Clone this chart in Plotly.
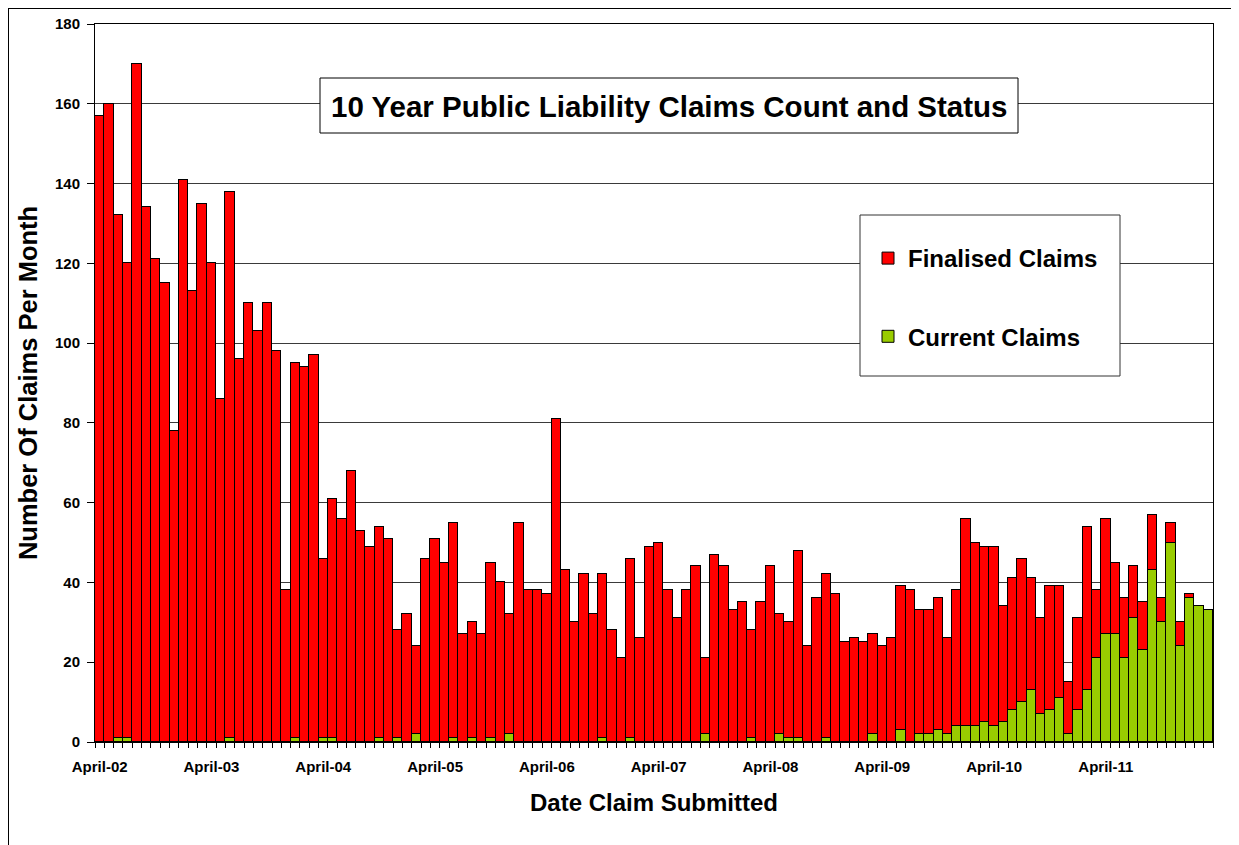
import plotly.graph_objects as go

# ---- data ----
start_year, start_month = 2002, 4
months = []
y, m = start_year, start_month
for _ in range(120):
    months.append(f"{y}-{m:02d}")
    m += 1
    if m > 12:
        m = 1
        y += 1

current = [
    0, 0, 1, 1, 0, 0, 0, 0, 0, 0, 0, 0,
    0, 0, 1, 0, 0, 0, 0, 0, 0, 1, 0, 0,
    1, 1, 0, 0, 0, 0, 1, 0, 1, 0, 2, 0,
    0, 0, 1, 0, 1, 0, 1, 0, 2, 0, 0, 0,
    0, 0, 0, 0, 0, 0, 1, 0, 0, 1, 0, 0,
    0, 0, 0, 0, 0, 2, 0, 0, 0, 0, 1, 0,
    0, 2, 1, 1, 0, 0, 1, 0, 0, 0, 0, 2,
    0, 0, 3, 0, 2, 2, 3, 2, 4, 4, 4, 5,
    4, 5, 8, 10, 13, 7, 8, 11, 2, 8, 13, 21,
    27, 27, 21, 31, 23, 43, 30, 50, 24, 36, 34, 33,
]

finalised = [
    157, 160, 131, 119, 170, 134, 121, 115, 78, 141, 113, 135,
    120, 86, 137, 96, 110, 103, 110, 98, 38, 94, 94, 97,
    45, 60, 56, 68, 53, 49, 53, 51, 27, 32, 22, 46,
    51, 45, 54, 27, 29, 27, 44, 40, 30, 55, 38, 38,
    37, 81, 43, 30, 42, 32, 41, 28, 21, 45, 26, 49,
    50, 38, 31, 38, 44, 19, 47, 44, 33, 35, 27, 35,
    44, 30, 29, 47, 24, 36, 41, 37, 25, 26, 25, 25,
    24, 26, 36, 38, 31, 31, 33, 24, 34, 52, 46, 44,
    45, 29, 33, 36, 28, 24, 31, 28, 13, 23, 41, 17,
    29, 18, 15, 13, 12, 14, 6, 5, 6, 1, 0, 0,
]

tick_months = ["2002-04", "2003-04", "2004-04", "2005-04", "2006-04",
               "2007-04", "2008-04", "2009-04", "2010-04", "2011-04"]
tick_labels = ["April-02", "April-03", "April-04", "April-05", "April-06",
               "April-07", "April-08", "April-09", "April-10", "April-11"]

RED = "#FF0000"
GREEN = "#99CC00"
FONT = "Liberation Sans, Arial, sans-serif"

label_map = dict(zip(tick_months, tick_labels))
ticktext = [label_map.get(mo, "") for mo in months]

fig = go.Figure()
fig.add_trace(go.Bar(
    x=months, y=current, name="Current Claims", legendgroup="c",
    legendrank=2,
    marker=dict(color=GREEN, line=dict(color="black", width=1)),
))
fig.add_trace(go.Bar(
    x=months, y=finalised, name="Finalised Claims", legendgroup="f",
    legendrank=1,
    marker=dict(color=RED, line=dict(color="black", width=1)),
))

# page has an 8px body margin; figure is sized/shifted to compensate
OFF = 8
W, H = 1239 - OFF, 845 - OFF
L, R, T, B = 95 - OFF, 26, 24 - OFF, 103
PW, PH = W - L - R, H - T - B

def px(xp):  # reference page x -> paper
    return (xp - 95) / PW

def py(yp):  # reference page y -> paper
    return (742 - yp) / PH

fig.update_layout(
    width=W, height=H,
    template="none",
    barmode="stack", bargap=0,
    paper_bgcolor="white", plot_bgcolor="white",
    margin=dict(l=L, r=R, t=T, b=B, pad=0, autoexpand=False),
    font=dict(family=FONT, color="black"),
    showlegend=True,
    legend=dict(
        x=px(868), y=py(236), xanchor="left", yanchor="top",
        font=dict(family=FONT, size=24, weight="bold", color="black"),
        bgcolor="rgba(0,0,0,0)", borderwidth=0,
        traceorder="grouped", tracegroupgap=44,
    ),
    xaxis=dict(
        type="category", categoryorder="array", categoryarray=months,
        tickmode="array", tickvals=months, ticktext=ticktext,
        tickson="boundaries", ticks="outside", ticklen=5, tickwidth=1,
        tickcolor="black", ticklabelstandoff=11,
        showgrid=False, showline=True, linecolor="black", linewidth=1,
        mirror=True, zeroline=False, automargin=False,
        tickfont=dict(family=FONT, size=15, weight="bold", color="black"),
        tickangle=0,
        title=dict(text="Date Claim Submitted", standoff=20,
                   font=dict(family=FONT, size=24, weight="bold", color="black")),
    ),
    yaxis=dict(
        range=[0, 180], dtick=20, tick0=0,
        ticks="outside", ticklen=7, tickwidth=1, tickcolor="black",
        ticklabelstandoff=4,
        showgrid=True, gridcolor="#3a3a3a", gridwidth=1,
        showline=True, linecolor="black", linewidth=1, mirror=True,
        zeroline=False, automargin=False,
        tickfont=dict(family=FONT, size=15, weight="bold", color="black"),
        title=dict(text="Number Of Claims Per Month", standoff=10,
                   font=dict(family=FONT, size=25.5, weight="bold", color="black")),
    ),
)

# title box
fig.add_shape(type="rect", xref="paper", yref="paper",
              x0=px(320), x1=px(1018), y0=py(133), y1=py(78),
              fillcolor="white", line=dict(color="black", width=1), layer="above")
fig.add_annotation(xref="paper", yref="paper", x=px(669), y=py(106),
                   text="10 Year Public Liability Claims Count and Status",
                   showarrow=False, xanchor="center", yanchor="middle",
                   font=dict(family=FONT, size=29.5, weight="bold", color="black"))

# legend box
fig.add_shape(type="rect", xref="paper", yref="paper",
              x0=px(860), x1=px(1120), y0=py(376), y1=py(215),
              fillcolor="white", line=dict(color="#333333", width=1), layer="above")

# outer frame (top and left edges)
fig.add_shape(type="line", xref="paper", yref="paper",
              x0=px(8), x1=px(1239), y0=py(8), y1=py(8),
              line=dict(color="black", width=2))
fig.add_shape(type="line", xref="paper", yref="paper",
              x0=px(8), x1=px(8), y0=py(8), y1=py(845),
              line=dict(color="black", width=2))

fig.write_html("out.html")
